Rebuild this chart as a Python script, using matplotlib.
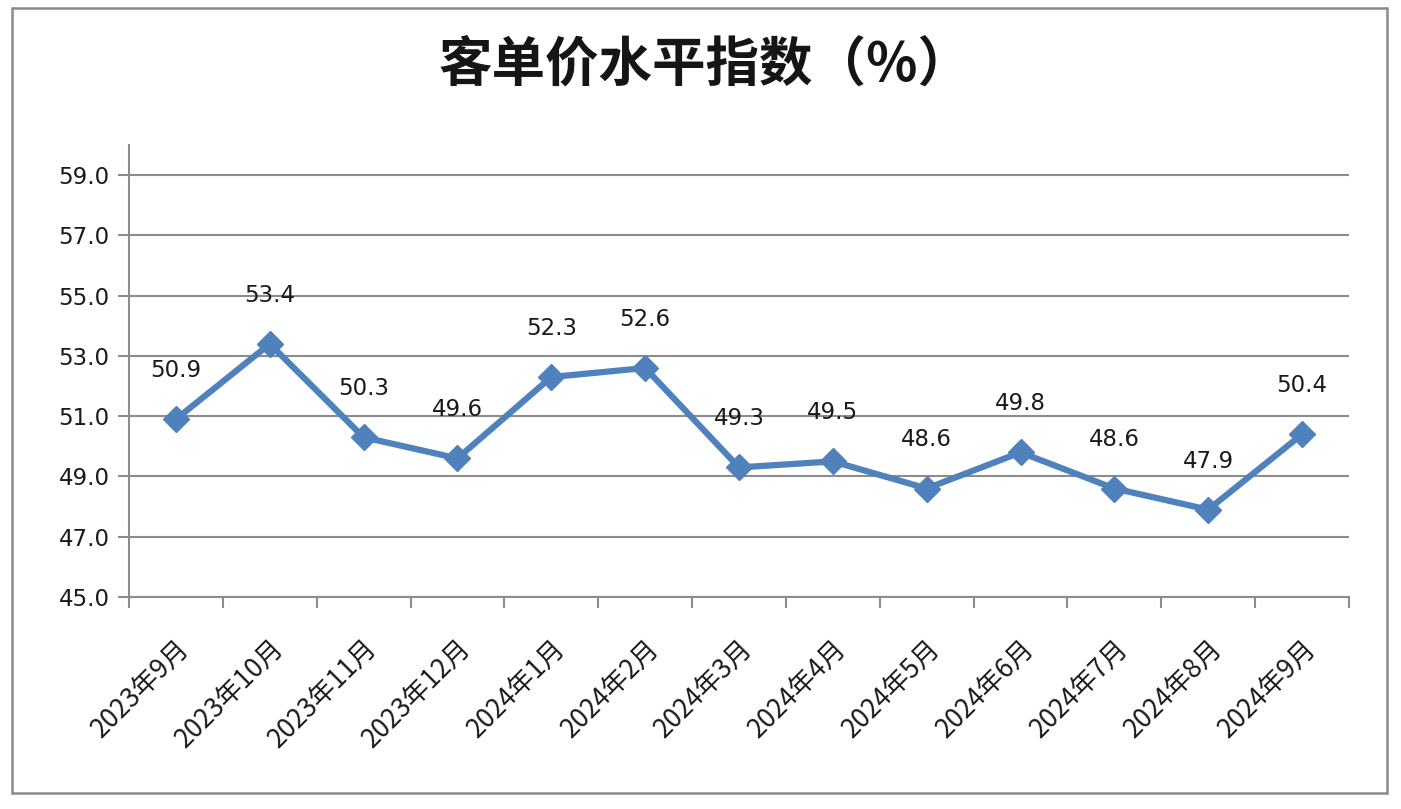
import matplotlib
matplotlib.use("Agg")
import matplotlib.pyplot as plt
from matplotlib.patches import Rectangle

plt.rcParams['font.family'] = ['DejaVu Sans', 'Noto Sans CJK SC']

categories = ["2023年9月", "2023年10月", "2023年11月", "2023年12月", "2024年1月", "2024年2月",
              "2024年3月", "2024年4月", "2024年5月", "2024年6月", "2024年7月", "2024年8月", "2024年9月"]
values = [50.9, 53.4, 50.3, 49.6, 52.3, 52.6, 49.3, 49.5, 48.6, 49.8, 48.6, 47.9, 50.4]
yticks = [45.0, 47.0, 49.0, 51.0, 53.0, 55.0, 57.0, 59.0]
title = "客单价水平指数（%）"

W, H = 1401, 809
fig = plt.figure(figsize=(W / 100, H / 100), dpi=100)
fig.patches.append(Rectangle((12 / W, 1 - 793 / H), (1387 - 12) / W, (793 - 8) / H,
                             transform=fig.transFigure, fill=False, edgecolor='#8a8a8a',
                             linewidth=1.8))

ax = fig.add_axes([129 / W, 1 - 597 / H, (1349 - 129) / W, (597 - 145) / H])
x = list(range(len(categories)))
ax.plot(x, values, color='#4f81bd', linewidth=4.5, marker='D', markersize=13,
        markerfacecolor='#4f81bd', markeredgecolor='#4f81bd', zorder=3)
for xi, v in zip(x, values):
    ax.annotate(f"{v:.1f}", (xi, v), xytext=(0, 35), textcoords='offset points',
                ha='center', va='center', fontsize=16.5, color='#1a1a1a')

ax.set_xlim(-0.5, len(categories) - 0.5)
ax.set_ylim(45, 60)
ax.set_yticks(yticks)
ax.set_yticklabels([f"{t:.1f}" for t in yticks], fontsize=16.5, color='#1a1a1a')
ax.yaxis.grid(True, color='#8c8c8c', linewidth=1.5)
ax.set_axisbelow(True)

ax.set_xticks(x)
ax.set_xticklabels(categories, rotation=45, ha='right', va='top', rotation_mode='anchor',
                   fontsize=19, color='#1a1a1a', family=['Noto Sans CJK SC', 'DejaVu Sans'])
ax.set_xticks([i - 0.5 for i in range(len(categories) + 1)], minor=True)
ax.tick_params(axis='x', which='major', length=0, pad=27)
ax.tick_params(axis='x', which='minor', length=8, width=1.5, color='#8c8c8c', direction='out')
ax.tick_params(axis='y', length=8, width=1.5, color='#8c8c8c', pad=6)

for s in ['top', 'right']:
    ax.spines[s].set_visible(False)
for s in ['left', 'bottom']:
    ax.spines[s].set_color('#8c8c8c')
    ax.spines[s].set_linewidth(1.5)

fig.text(0.503, 1 - 65 / H, title, ha='center', va='center', fontsize=38.5, fontweight='bold',
         family=['Noto Sans CJK SC', 'DejaVu Sans'], color='#151515')

fig.savefig("out.png", dpi=100, facecolor='white')
